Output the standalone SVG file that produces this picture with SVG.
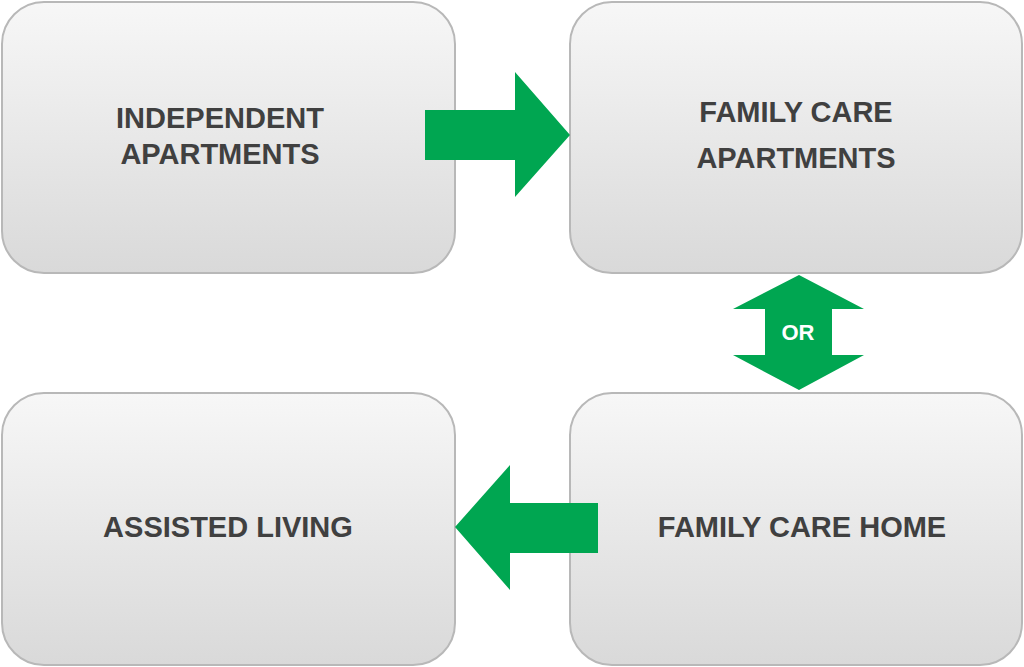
<svg xmlns="http://www.w3.org/2000/svg" width="1024" height="667" viewBox="0 0 1024 667">
<defs>
<linearGradient id="g" x1="0" y1="0" x2="0" y2="1"><stop offset="0" stop-color="#f7f7f7"/><stop offset="1" stop-color="#d9d9d9"/></linearGradient>
<style>
.box{fill:url(#g);stroke:#b8b8b8;stroke-width:2}
.t{font-family:"Liberation Sans",Arial,sans-serif;font-weight:bold;font-size:29px;fill:#404040;text-anchor:middle}
.a{fill:#00a651}
</style>
</defs>
<rect width="1024" height="667" fill="#fff"/>
<g id="n1"><rect class="box" x="2" y="2" width="453" height="271" rx="42"/><text class="t" x="220" y="128">INDEPENDENT</text><text class="t" x="220" y="164">APARTMENTS</text></g>
<g id="n2"><rect class="box" x="570" y="2" width="452" height="271" rx="42"/><text class="t" x="796" y="122">FAMILY CARE</text><text class="t" x="796" y="168">APARTMENTS</text></g>
<g id="n3"><rect class="box" x="2" y="393" width="453" height="272" rx="42"/><text class="t" x="228" y="537">ASSISTED LIVING</text></g>
<g id="n4"><rect class="box" x="570" y="393" width="452" height="272" rx="42"/><text class="t" x="802" y="537">FAMILY CARE HOME</text></g>
<g id="connectors">
<polygon class="a" points="425,110 515,110 515,72 570,135 515,197 515,160 425,160"/>
<polygon class="a" points="598,503 510,503 510,465 455,527 510,590 510,553 598,553"/>
<polygon class="a" points="799,275 864,309 832,309 832,355 864,355 799,390 733,355 765,355 765,309 733,309"/>
<text x="798" y="340" style="font-family:'Liberation Sans',Arial,sans-serif;font-weight:bold;font-size:22px;fill:#fff;text-anchor:middle">OR</text>
</g>
</svg>
